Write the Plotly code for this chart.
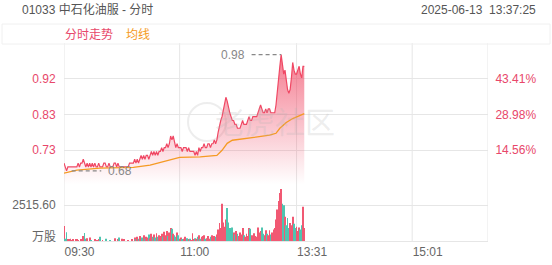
import plotly.graph_objects as go

# ---------------- data ----------------
title_text = "01033 中石化油服 - 分时"
time_text = "2025-06-13  13:37:25"
prev_close = 0.64
price_range = [0.6408, 1.0102]
price_ticks = [0.7332, 0.8255, 0.9178]
price_tick_labels = ["0.73", "0.83", "0.92"]
pct_tick_labels = ["14.56%", "28.98%", "43.41%"]
vol_tick = 2515.60
vol_tick_label = "2515.60"
vol_unit = "万股"
time_ticks = [0, 90, 181, 271]
time_tick_labels = ["09:30", "11:00", "13:31", "15:01"]
session_minutes = 330

price = [
    0.70, 0.69, 0.68, 0.69, 0.69, 0.69, 0.69, 0.69, 0.69, 0.69,
    0.69, 0.70, 0.69, 0.70, 0.70, 0.71, 0.70, 0.69, 0.70, 0.69,
    0.70, 0.69, 0.70, 0.69, 0.70, 0.69, 0.69, 0.70, 0.69, 0.69,
    0.69, 0.70, 0.70, 0.69, 0.69, 0.70, 0.69, 0.69, 0.69, 0.70,
    0.70, 0.69, 0.70, 0.69, 0.69, 0.69, 0.69, 0.69, 0.69, 0.69,
    0.69, 0.70, 0.70, 0.70, 0.70, 0.71, 0.70, 0.71, 0.70, 0.71,
    0.72, 0.71, 0.72, 0.71, 0.72, 0.72, 0.71, 0.72, 0.73, 0.72,
    0.73, 0.72, 0.73, 0.72, 0.73, 0.73, 0.74, 0.73, 0.74, 0.74,
    0.75, 0.74, 0.75, 0.77, 0.76, 0.77, 0.75, 0.74, 0.75, 0.74,
    0.74, 0.74, 0.73, 0.74, 0.74, 0.74, 0.73, 0.74, 0.73, 0.73,
    0.73, 0.73, 0.72, 0.73, 0.72, 0.74, 0.73, 0.74, 0.74, 0.75,
    0.74, 0.74, 0.75, 0.75, 0.74, 0.75, 0.75, 0.76, 0.75, 0.76,
    0.78, 0.80, 0.81, 0.82, 0.84, 0.85, 0.87, 0.86, 0.84, 0.83,
    0.82, 0.81, 0.81, 0.80, 0.80, 0.79, 0.79, 0.79, 0.80, 0.81,
    0.80, 0.80, 0.80, 0.81, 0.82, 0.81, 0.81, 0.82, 0.82, 0.82,
    0.82, 0.83, 0.84, 0.85, 0.84, 0.83, 0.83, 0.84, 0.83, 0.84,
    0.84, 0.83, 0.83, 0.83, 0.83, 0.85, 0.89, 0.93, 0.95, 0.98,
    0.95, 0.93, 0.94, 0.91, 0.89, 0.88, 0.89, 0.92, 0.96, 0.94,
    0.93, 0.93, 0.94, 0.95, 0.93, 0.92, 0.95, 0.95,
]

avg_minutes = [0, 10, 28, 54, 67, 82, 90, 106, 119, 123, 127, 131, 142, 152, 160, 165, 168, 173, 178, 187]
avg_price = [0.674, 0.682, 0.687, 0.689, 0.695, 0.707, 0.715, 0.716, 0.720, 0.733,
             0.751, 0.759, 0.764, 0.767, 0.772, 0.777, 0.790, 0.805, 0.815, 0.828]

volume = [
    1050, 150, 620, 120, 80, 150, 60, 100, 0, 80,
    120, 60, 0, 90, 50, 350, 560, 150, 200, 0,
    250, 60, 0, 0, 80, 0, 40, 100, 300, 0,
    60, 0, 0, 150, 0, 0, 50, 0, 0, 0,
    200, 0, 120, 250, 0, 150, 0, 80, 0, 0,
    60, 0, 0, 100, 0, 250, 80, 300, 150, 350,
    100, 250, 400, 150, 300, 250, 450, 200, 500, 300,
    450, 250, 550, 300, 400, 350, 500, 300, 650, 400,
    700, 350, 600, 900, 850, 500, 400, 300, 600, 400,
    150, 250, 100, 150, 300, 100, 200, 100, 150, 50,
    550, 100, 200, 150, 300, 400, 150, 300, 350, 400,
    150, 200, 350, 150, 300, 400, 200, 350, 300, 450,
    800, 1250, 900, 2600, 1300, 1000, 1500, 2300, 1300, 900,
    700, 950, 600, 450, 700, 500, 350, 600, 450, 900,
    400, 300, 500, 350, 900, 850, 400, 300, 550, 350,
    300, 950, 600, 700, 950, 500, 400, 750, 500, 400,
    750, 450, 600, 800, 900, 1500, 2200, 2800, 3350, 3630,
    2600, 2500, 1700, 1100, 1600, 900, 1250, 1100, 1700, 1200,
    900, 1000, 700, 950, 800, 1100, 2400, 900,
]

# ---------------- styles ----------------
RED = "#f04864"
TEAL = "#3dbfa8"
ORANGE = "#f59a23"
GRID = "#e6e6e6"
GRAY_TXT = "#666666"
FONT = "Liberation Sans, Noto Sans CJK SC, sans-serif"

W, H = 552, 265
x_left, x_right = 64, 488
price_top, price_bot = 43, 186
vol_top, vol_bot = 186, 241


def py(px):
    return (H - px) / H


minutes = list(range(len(price)))
bar_colors = [RED if i == 0 or price[i] >= price[i - 1] else TEAL for i in range(len(price))]

fig = go.Figure()

fig.add_trace(go.Scatter(
    x=minutes, y=price, mode="lines",
    line=dict(color=RED, width=1.2),
    fill="tozeroy",
    fillgradient=dict(type="vertical", start=0.645, stop=0.98,
                      colorscale=[[0, "rgba(240,72,100,0)"], [1, "rgba(240,72,100,0.72)"]]),
    xaxis="x", yaxis="y", hoverinfo="skip", showlegend=False,
))
fig.add_trace(go.Scatter(
    x=avg_minutes, y=avg_price, mode="lines",
    line=dict(color=ORANGE, width=1.3),
    xaxis="x", yaxis="y", hoverinfo="skip", showlegend=False,
))
fig.add_trace(go.Bar(
    x=minutes, y=volume, marker=dict(color=bar_colors, line=dict(width=0)),
    opacity=0.9, xaxis="x2", yaxis="y3", hoverinfo="skip", showlegend=False,
))

xdom = [x_left / W, x_right / W]

fig.update_layout(
    width=W, height=H,
    margin=dict(l=0, r=0, t=0, b=0),
    paper_bgcolor="white", plot_bgcolor="rgba(0,0,0,0)",
    font=dict(family=FONT, size=12, color=GRAY_TXT),
    bargap=0.35,
    xaxis=dict(domain=xdom, range=[0, session_minutes], showgrid=False, zeroline=False,
               showticklabels=False, anchor="y", fixedrange=True),
    yaxis=dict(domain=[py(price_bot), py(price_top)], range=price_range,
               tickvals=price_ticks, ticktext=price_tick_labels,
               tickfont=dict(color="#e8476a", size=12),
               showgrid=True, gridcolor=GRID, gridwidth=1, zeroline=False,
               ticks="outside", ticklen=5, tickcolor="rgba(0,0,0,0)", anchor="x"),
    yaxis2=dict(overlaying="y", side="right", range=price_range,
                tickvals=price_ticks, ticktext=pct_tick_labels,
                tickfont=dict(color="#e8476a", size=12),
                showgrid=False, zeroline=False,
                ticks="outside", ticklen=4, tickcolor="rgba(0,0,0,0)", anchor="x"),
    xaxis2=dict(domain=xdom, range=[0, session_minutes], anchor="y3",
                tickvals=time_ticks, ticktext=time_tick_labels,
                ticklabelposition="outside right",
                tickfont=dict(color=GRAY_TXT, size=12),
                showgrid=False, zeroline=False, showline=True, linecolor=GRID, linewidth=1,
                ticks=""),
    yaxis3=dict(domain=[py(vol_bot), py(vol_top)],
                range=[0, vol_tick * (vol_bot - vol_top) / 36.0],
                tickvals=[vol_tick], ticktext=[vol_tick_label],
                tickfont=dict(color=GRAY_TXT, size=12),
                showgrid=True, gridcolor=GRID, zeroline=False,
                ticks="outside", ticklen=5, tickcolor="rgba(0,0,0,0)", anchor="x2"),
)

# dummy trace so yaxis2 renders
fig.add_trace(go.Scatter(x=[None], y=[None], xaxis="x", yaxis="y2", showlegend=False))

shapes = []
# vertical grid lines
for t in time_ticks + [session_minutes]:
    shapes.append(dict(type="line", xref="x", yref="paper", x0=t, x1=t,
                       y0=py(vol_bot), y1=py(price_top), line=dict(color=GRID, width=1), layer="below"))
# legend box
shapes.append(dict(type="rect", xref="paper", yref="paper", x0=2 / W, x1=550 / W,
                   y0=py(44), y1=py(24), line=dict(color="#f0f0f0", width=1), layer="below"))
# watermark logo circle
shapes.append(dict(type="circle", xref="paper", yref="paper", x0=188 / W, x1=226 / W,
                   y0=py(141), y1=py(103), line=dict(color="rgba(190,190,190,0.28)", width=2), layer="below"))

# high / low markers derived from data
hi = max(price)
hi_i = price.index(hi)
lo = min(price)
lo_i = price.index(lo)
dash_len = 23
shapes.append(dict(type="line", xref="x", yref="y", x0=hi_i - dash_len, x1=hi_i, y0=hi, y1=hi,
                   line=dict(color="#888888", width=1.3, dash="4px,3px")))
shapes.append(dict(type="line", xref="x", yref="y", x0=lo_i + 4, x1=lo_i + 4 + dash_len, y0=lo, y1=lo,
                   line=dict(color="#888888", width=1.3, dash="4px,3px")))

annotations = [
    dict(text=title_text, xref="paper", yref="paper", x=20 / W, y=py(10), xanchor="left", yanchor="middle",
         showarrow=False, font=dict(size=12, color="#555555")),
    dict(text=time_text, xref="paper", yref="paper", x=538 / W, y=py(10), xanchor="right", yanchor="middle",
         showarrow=False, font=dict(size=12, color="#555555")),
    dict(text="分时走势", xref="paper", yref="paper", x=63 / W, y=py(35), xanchor="left", yanchor="middle",
         showarrow=False, font=dict(size=12, color="#e8476a")),
    dict(text="均线", xref="paper", yref="paper", x=124 / W, y=py(35), xanchor="left", yanchor="middle",
         showarrow=False, font=dict(size=12, color=ORANGE)),
    dict(text=vol_unit, xref="paper", yref="paper", x=58 / W, y=py(237), xanchor="right", yanchor="middle",
         showarrow=False, font=dict(size=12, color=GRAY_TXT)),
    dict(text="老虎社区", xref="paper", yref="paper", x=275 / W, y=py(122), xanchor="center", yanchor="middle",
         showarrow=False, font=dict(size=30, color="rgba(180,180,180,0.24)")),
    dict(text=f"{hi:.2f}", xref="x", yref="y", x=hi_i - dash_len, y=hi, xanchor="right", yanchor="middle",
         xshift=-5, showarrow=False, font=dict(size=12, color="#888888")),
    dict(text=f"{lo:.2f}", xref="x", yref="y", x=lo_i + 4 + dash_len, y=lo, xanchor="left", yanchor="middle",
         xshift=5, showarrow=False, font=dict(size=12, color="#888888")),
]

fig.update_layout(shapes=shapes, annotations=annotations)
fig.write_html("out.html")
